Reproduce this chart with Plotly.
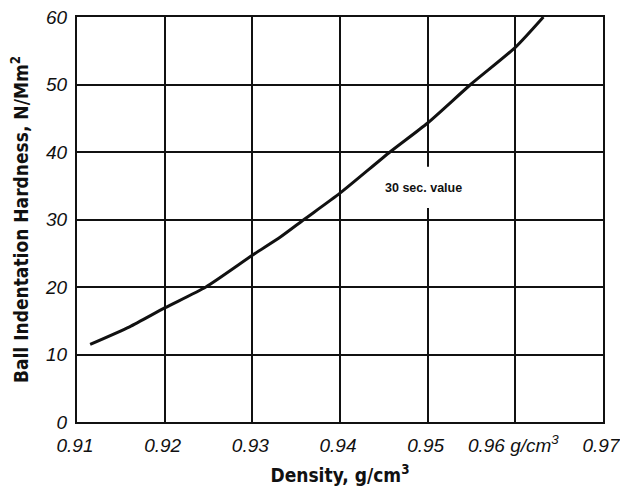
import plotly.graph_objects as go

# Ball indentation hardness (30 s value) versus density
density = [0.9115, 0.916, 0.92, 0.9247, 0.93, 0.9332, 0.9359, 0.94,
           0.9457, 0.95, 0.9549, 0.96, 0.9632]
hardness = [11.5, 14.1, 16.9, 20.0, 24.7, 27.4, 30.0, 33.9,
            40.0, 44.3, 50.0, 55.5, 60.0]

x_tickvals = [0.91, 0.92, 0.93, 0.94, 0.95, 0.96, 0.97]
x_ticktext = ["0.91", "0.92", "0.93", "0.94", "0.95", "0.96 g/cm<sup>3</sup>", "0.97"]
y_tickvals = [0, 10, 20, 30, 40, 50, 60]
y_ticktext = ["0", "10", "20", "30", "40", "50", "60"]

curve_label = "30 sec. value"
label_pos = (0.94955, 34.6)

ink = "#111111"
narrow = "Liberation Sans Narrow, Arial Narrow, DejaVu Sans Condensed, sans-serif"
tick_font = dict(family="Liberation Sans, Arial, sans-serif", size=19, color=ink,
                 style="italic")

fig = go.Figure()
fig.add_trace(go.Scatter(
    x=density, y=hardness, mode="lines",
    line=dict(color=ink, width=3, shape="spline", smoothing=0.6),
    hoverinfo="skip", showlegend=False,
))

# white patch that interrupts the 0.95 gridline around the curve label
fig.add_shape(type="rect", xref="x", yref="y",
              x0=0.9485, x1=0.9515, y0=31.7, y1=37.8,
              fillcolor="white", line=dict(width=0), layer="between")

fig.add_annotation(x=label_pos[0], y=label_pos[1], text=curve_label,
                   showarrow=False, xanchor="center", yanchor="middle",
                   font=dict(family="Liberation Sans, Arial, sans-serif",
                             size=12.5, color=ink, weight="bold"))

fig.update_xaxes(
    range=[0.91, 0.97], tickvals=x_tickvals, ticktext=x_ticktext,
    showgrid=True, gridcolor=ink, gridwidth=2,
    showline=True, linecolor=ink, linewidth=2, mirror=True,
    ticks="", ticklabelstandoff=5, ticklabelshift=-2, tickfont=tick_font,
    zeroline=False, ticklabeloverflow="allow",
    title=dict(text="Density, g/cm<sup>3</sup>", standoff=14,
               font=dict(family=narrow, size=19, color=ink, weight="bold")),
    automargin=False,
)
fig.update_yaxes(
    range=[0, 60], tickvals=y_tickvals, ticktext=y_ticktext,
    showgrid=True, gridcolor=ink, gridwidth=2,
    showline=True, linecolor=ink, linewidth=2, mirror=True,
    ticks="", ticklabelstandoff=4, tickfont=tick_font, zeroline=False,
    ticklabeloverflow="allow",
    title=dict(text="Ball Indentation Hardness, N/Mm<sup>2</sup>", standoff=11,
               font=dict(family=narrow, size=19, color=ink, weight="bold")),
    automargin=False,
)

fig.update_layout(
    width=620, height=489,
    margin=dict(l=77, r=17, t=17, b=67),
    paper_bgcolor="white", plot_bgcolor="white",
)

fig.write_html("out.html")
